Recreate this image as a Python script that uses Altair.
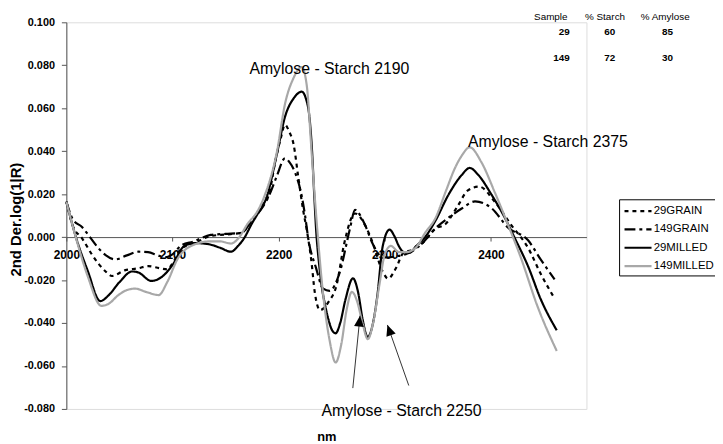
import math
import altair as alt
import pandas as pd

# ---------------- data ----------------
series_names = ["29GRAIN", "149GRAIN", "29MILLED", "149MILLED"]

g29_nm = [2000, 2006, 2015, 2024.5, 2037, 2043, 2055, 2068, 2077, 2088,
          2095, 2101, 2108, 2120, 2136, 2150, 2165, 2175, 2185, 2191,
          2197, 2202, 2206, 2210, 2214, 2218.5, 2223, 2226.5, 2231, 2234,
          2239, 2247, 2254.5, 2262, 2272, 2282, 2288.5, 2298, 2303, 2311,
          2317, 2325, 2335, 2348, 2357, 2369, 2378, 2389, 2403.5, 2419,
          2435, 2447, 2460]
g29_v = [0.0165, 0.0054, -0.0007, -0.0084, -0.016, -0.0181, -0.0155, -0.0145, -0.0135, -0.0145,
         -0.015, -0.0115, -0.0055, -0.003, 0.0005, 0.0012, 0.002, 0.008, 0.015, 0.020,
         0.0357, 0.046, 0.0523, 0.049, 0.0434, 0.028, 0.0128, 0.0034, -0.0118, -0.0255,
         -0.034, -0.0302, -0.0225, -0.0025, 0.011, 0.005, -0.0025, -0.016, -0.0193, -0.014,
         -0.0077, -0.006, -0.003, 0.004, 0.006, 0.0147, 0.0216, 0.0235, 0.0165, 0.0057,
         -0.005, -0.0172, -0.0286]

g149_nm = [2000, 2006, 2015, 2021, 2030, 2037, 2046, 2057, 2068, 2077,
           2086, 2093, 2100, 2108, 2120, 2136, 2150, 2165, 2175, 2185,
           2192, 2198, 2206, 2210, 2215.5, 2221.8, 2225, 2228, 2235, 2242,
           2248, 2257.5, 2267, 2272, 2277, 2282, 2288, 2296, 2303, 2310,
           2323, 2335, 2348, 2360, 2372.5, 2385, 2400.5, 2416, 2435, 2447,
           2460]
g149_v = [0.0165, 0.0084, 0.0046, 0.0008, -0.005, -0.0084, -0.0104, -0.0085, -0.0068, -0.007,
          -0.0085, -0.0094, -0.008, -0.004, -0.002, 0.001, 0.0015, 0.002, 0.008, 0.014,
          0.0205, 0.028, 0.0367, 0.035, 0.030, 0.019, 0.0097, -0.001, -0.014, -0.024,
          -0.025, -0.0165, 0.0035, 0.0127, 0.010, 0.005, -0.0025, -0.0087, -0.0095, -0.009,
          -0.0073, -0.003, 0.0042, 0.009, 0.0133, 0.0166, 0.0135, 0.0045, -0.0015, -0.0105,
          -0.0197]

m29_nm = [2000, 2009, 2020, 2032, 2040, 2050, 2062, 2068, 2080, 2090,
          2100, 2111, 2121, 2133, 2145, 2155, 2162, 2167.5, 2175, 2180,
          2189, 2198.5, 2206, 2214, 2221.8, 2226, 2229, 2231.5, 2233.5, 2235.5,
          2238, 2240.5, 2243.5, 2246.7, 2250, 2253.7, 2258, 2263, 2270, 2275,
          2279, 2284, 2288, 2293, 2298, 2304.5, 2309, 2313.5, 2318, 2323,
          2330, 2338, 2347.6, 2360, 2372.5, 2380, 2388, 2400.5, 2413, 2422,
          2435, 2447, 2462]
m29_v = [0.0165, 0.000, -0.0155, -0.0298, -0.027, -0.021, -0.016, -0.0165, -0.0204, -0.0185,
         -0.013, -0.0042, -0.0028, -0.0032, -0.005, -0.0068, -0.004, -0.0005, 0.0065, 0.0106,
         0.019, 0.039, 0.056, 0.0645, 0.0677, 0.064, 0.056, 0.040, 0.020, 0.002,
         -0.012, -0.0226, -0.031, -0.0379, -0.043, -0.0448, -0.040, -0.029, -0.0192, -0.026,
         -0.038, -0.0466, -0.042, -0.0273, -0.0044, 0.0035, 0.0005, -0.0044, -0.007, -0.0073,
         -0.004, 0.000, 0.0075, 0.0197, 0.0289, 0.0322, 0.029, 0.0198, 0.0091, 0.000,
         -0.0136, -0.029, -0.0434]

m149_nm = [2000, 2010, 2020, 2033, 2040, 2049, 2058, 2065, 2075, 2087,
           2095, 2105, 2118, 2135, 2145, 2155, 2163, 2170.5, 2180, 2186,
           2198.5, 2206, 2214, 2221.8, 2226.5, 2231, 2234, 2237, 2242, 2248,
           2253.7, 2259, 2264, 2269, 2274, 2279, 2284, 2289, 2295, 2300,
           2305.7, 2313.5, 2320, 2329, 2338, 2347.6, 2358, 2366, 2372.5, 2380,
           2391, 2403.5, 2416, 2428, 2444, 2462]
m149_v = [0.0165, -0.002, -0.018, -0.032, -0.031, -0.027, -0.0245, -0.024, -0.0255, -0.027,
          -0.021, -0.010, -0.004, -0.002, -0.002, -0.003, 0.000, 0.006, 0.012, 0.0183,
          0.040, 0.062, 0.074, 0.0792, 0.0706, 0.040, 0.019, 0.000, -0.027, -0.048,
          -0.0584, -0.050, -0.034, -0.0255, -0.030, -0.040, -0.0475, -0.040, -0.022, -0.008,
          -0.0041, -0.007, -0.007, -0.005, 0.002, 0.0087, 0.022, 0.032, 0.0379, 0.0418,
          0.0349, 0.021, 0.0059, -0.0093, -0.0324, -0.053]

# annotations
ann_labels = ["Amylose - Starch 2190", "Amylose - Starch 2375", "Amylose - Starch 2250"]
ann_nm = [2247.8, 2453.7, 2315.8]
ann_v = [0.0784, 0.0443, -0.0812]

# arrows (start -> tip)
arrow_start_nm = [2269.9, 2322.6]
arrow_start_v = [-0.0703, -0.0691]
arrow_tip_nm = [2276.7, 2302.5]
arrow_tip_v = [-0.0366, -0.0409]

# sample table
table_header = ["Sample", "% Starch", "% Amylose"]
samples = ["29", "149"]
starch = [60, 72]
amylose = [85, 30]
header_nm = [2456.4, 2507.5, 2564.2]
cell_nm = [2474.2, 2517.1, 2571.5]
header_v = 0.1024
row_v = [0.0953, 0.0835]

x_ticks = [2000, 2100, 2200, 2300, 2400]
y_ticks = [-0.08, -0.06, -0.04, -0.02, 0.0, 0.02, 0.04, 0.06, 0.08, 0.10]

# ---------------- layout ----------------
X_MIN, X_MAX = 2000, 2490
Y_MIN, Y_MAX = -0.08, 0.10
W, H = 526, 391
FONT = "Liberation Sans"

px_nm = W / (X_MAX - X_MIN)
px_v = H / (Y_MAX - Y_MIN)
zero_offset = -H * (0 - Y_MIN) / (Y_MAX - Y_MIN)

rows = []
for name, xs, vs in [("29GRAIN", g29_nm, g29_v), ("149GRAIN", g149_nm, g149_v),
                     ("29MILLED", m29_nm, m29_v), ("149MILLED", m149_nm, m149_v)]:
    for i, (x, v) in enumerate(zip(xs, vs)):
        rows.append({"series": name, "nm": x, "val": v, "i": i})
df = pd.DataFrame(rows)

xscale = alt.Scale(domain=[X_MIN, X_MAX], nice=False, zero=False)
yscale = alt.Scale(domain=[Y_MIN, Y_MAX], nice=False, zero=False)

legend = alt.Legend(
    title=None, orient="none", legendX=559, legendY=179,
    strokeColor="black", fillColor="white", padding=4,
    labelFont=FONT, labelFontSize=11.5, labelColor="black",
    symbolType="M-1,0H3.2", symbolSize=169, labelOffset=15, rowPadding=4.5,
)

lines = alt.Chart(df).mark_line(interpolate="monotone").encode(
    x=alt.X("nm:Q", scale=xscale, axis=alt.Axis(
        values=x_ticks, format="d", offset=zero_offset, title="nm",
        titleFont=FONT, titleFontSize=13, titleFontWeight="bold", titleColor="black",
        titleY=202, titleBaseline="middle",
        labelFont=FONT, labelFontSize=12, labelFontWeight="bold", labelColor="black",
        labelFlush=False, labelPadding=9, tickSize=4, tickColor="#555",
        domainColor="#555", grid=False)),
    y=alt.Y("val:Q", scale=yscale, axis=alt.Axis(
        values=y_ticks,
        labelExpr="(datum.value < -0.0000001 ? '-' : '') + format(abs(datum.value), '.3f')",
        title="2nd Der.log(1|R)",
        titleFont=FONT, titleFontSize=15, titleFontWeight="bold", titleColor="black",
        titleX=-43, titleY=199, titleAngle=270, titleAlign="center", titleBaseline="bottom",
        labelFont=FONT, labelFontSize=11, labelFontWeight="bold", labelColor="black",
        labelPadding=7, tickSize=5, tickColor="#555", domainColor="#555", grid=False)),
    color=alt.Color("series:N", scale=alt.Scale(domain=series_names,
                    range=["black", "black", "black", "#a8a8a8"]), legend=legend),
    strokeDash=alt.StrokeDash("series:N", scale=alt.Scale(domain=series_names,
                    range=[[4, 4], [11, 4, 3, 4], [1, 0], [1, 0]]), legend=legend),
    strokeWidth=alt.StrokeWidth("series:N", scale=alt.Scale(domain=series_names,
                    range=[2.2, 2.2, 2.0, 2.2]), legend=legend),
    order="i:Q",
)

ann_df = pd.DataFrame({"label": ann_labels, "nm": ann_nm, "val": ann_v})
ann = alt.Chart(ann_df).mark_text(font=FONT, fontSize=16, color="black",
                                  align="center", baseline="middle").encode(
    x=alt.X("nm:Q", scale=xscale), y=alt.Y("val:Q", scale=yscale), text="label:N")

ang = []
for sx, sv, tx, tv in zip(arrow_start_nm, arrow_start_v, arrow_tip_nm, arrow_tip_v):
    dx = (tx - sx) * px_nm
    dy = -(tv - sv) * px_v
    ang.append(math.degrees(math.atan2(dx, -dy)) % 360)
arr_df = pd.DataFrame({"nm": arrow_start_nm, "val": arrow_start_v,
                       "nm2": arrow_tip_nm, "val2": arrow_tip_v, "ang": ang})
arr_lines = alt.Chart(arr_df).mark_rule(color="#333", strokeWidth=1).encode(
    x=alt.X("nm:Q", scale=xscale), y=alt.Y("val:Q", scale=yscale),
    x2="nm2:Q", y2="val2:Q")
arr_heads = alt.Chart(arr_df).mark_point(
    shape="M0,0L0.9,2L-0.9,2Z", filled=True, color="black", opacity=1, size=121).encode(
    x=alt.X("nm2:Q", scale=xscale), y=alt.Y("val2:Q", scale=yscale),
    angle=alt.Angle("ang:Q", scale=None))

hdr_df = pd.DataFrame({"label": table_header, "nm": header_nm, "val": [header_v] * 3})
hdr = alt.Chart(hdr_df).mark_text(font=FONT, fontSize=10, color="black",
                                  align="center", baseline="middle").encode(
    x=alt.X("nm:Q", scale=xscale), y=alt.Y("val:Q", scale=yscale), text="label:N")

cells = []
for r, (s, st, am) in enumerate(zip(samples, starch, amylose)):
    for c, txt in enumerate([s, str(st), str(am)]):
        cells.append({"label": txt, "nm": cell_nm[c], "val": row_v[r]})
cell_df = pd.DataFrame(cells)
cell = alt.Chart(cell_df).mark_text(font=FONT, fontSize=10, fontWeight="bold", color="black",
                                    align="right", baseline="middle").encode(
    x=alt.X("nm:Q", scale=xscale), y=alt.Y("val:Q", scale=yscale), text="label:N")

chart = alt.layer(lines, arr_lines, arr_heads, ann, hdr, cell).properties(
    width=W, height=H,
    padding={"left": 59, "top": 12, "right": 130, "bottom": 33},
    autosize=alt.AutoSizeParams(type="none"),
    background="white",
).configure_view(stroke=None).configure(font=FONT)

chart.save("out.html", embed_options={"renderer": "svg", "actions": False})
